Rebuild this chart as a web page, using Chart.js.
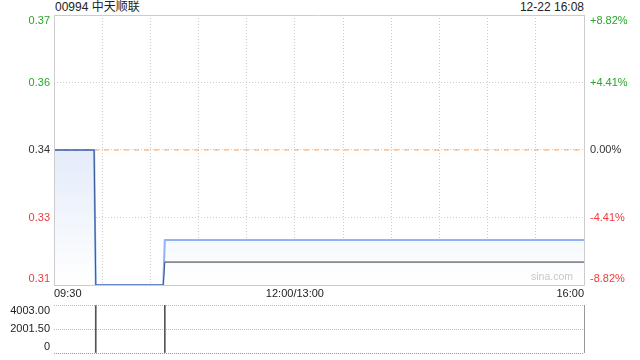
<!DOCTYPE html>
<html>
<head>
<meta charset="utf-8">
<script src="https://cdn.jsdelivr.net/npm/chart.js@4/dist/chart.umd.min.js"></script>
<style>
  html, body { margin: 0; padding: 0; background: #fff; }
  body { width: 640px; height: 360px; position: relative; overflow: hidden;
         font-family: Arial, "Liberation Sans", "Noto Sans CJK SC", sans-serif; }
  .txt { position: absolute; font-size: 12px; color: #222; white-space: nowrap; line-height: 14px; }
  #title { left: 55px; top: 0px; }
  #stamp { right: 56px; top: 0px; }
  #wm { right: 67px; top: 270px; color: #c8c8c8; font-size: 10.5px; line-height: 12px; }
  #price-wrap { position: absolute; left: 0; top: 0; width: 640px; height: 300px; }
  #vol-wrap { position: absolute; left: 0; top: 300px; width: 640px; height: 60px; }
</style>
</head>
<body>
<div class="txt" id="title">00994 中天顺联</div>
<div class="txt" id="stamp">12-22 16:08</div>
<div id="price-wrap"><canvas id="price-chart"></canvas></div>
<div class="txt" id="wm">sina.com</div>
<div id="vol-wrap"><canvas id="vol-chart"></canvas></div>
<script>
// minutes since 09:30 (lunch break removed), 330 = 16:00
const times = [0, 25, 26, 68, 69, 330];
const prices = [0.34, 0.34, 0.31, 0.31, 0.32, 0.32];
const avgPrices = [0.34, 0.34, 0.31, 0.31, 0.3151, 0.3151];
const prevClose = 0.34;

const volTimes = [26, 69];
const volumes = [3950, 4003];

const priceTicks = [0.31, 0.325, 0.34, 0.355, 0.37];
const priceLabels = ['0.31', '0.33', '0.34', '0.36', '0.37'];
const pctLabels = ['-8.82%', '-4.41%', '0.00%', '+4.41%', '+8.82%'];

const timeTicks = [0, 150, 330];
const timeLabels = ['09:30', '12:00/13:00', '16:00'];

const volTicks = [0, 2001.5, 4003];
const volLabels = ['0', '2001.50', '4003.00'];

const UP = '#2aa52a', DOWN = '#f23a3a', FLAT = '#333';
const FONT = { family: 'Arial, "Liberation Sans", sans-serif', size: 11, lineHeight: 1.1 };

function tickIndex(arr, v) {
  return arr.findIndex(t => Math.abs(t - v) < 1e-6);
}
function priceColor(v) {
  if (Math.abs(v - prevClose) < 1e-6) return FLAT;
  return v > prevClose ? UP : DOWN;
}
// first/last label nudged inside the plot, like the original
function innerLabel(arr, labels, v) {
  const i = tickIndex(arr, v);
  if (i < 0) return '';
  if (i === 0) return [labels[i], ''];
  if (i === arr.length - 1) return ['', labels[i]];
  return labels[i];
}
const noPad = (s) => { s.paddingTop = 0; s.paddingBottom = 0; };

// plain solid frame around the plot area
const frame = {
  id: 'frame',
  afterDraw(chart, args, opts) {
    const { ctx, chartArea: a } = chart;
    ctx.save();
    ctx.strokeStyle = opts.color || '#ccc';
    ctx.lineWidth = 1;
    ctx.beginPath();
    if (opts.full) {
      ctx.rect(Math.round(a.left) + 0.5, Math.round(a.top) + 0.5,
        Math.round(a.right - a.left), Math.round(a.bottom - a.top));
    } else {
      ctx.moveTo(Math.round(a.right) + 0.5, a.top);
      ctx.lineTo(Math.round(a.right) + 0.5, a.bottom);
    }
    ctx.stroke();
    ctx.restore();
  }
};

const pts = (xs, ys) => xs.map((x, i) => ({ x, y: ys[i] }));

new Chart(document.getElementById('price-chart'), {
  type: 'line',
  data: {
    datasets: [
      {
        label: 'price',
        data: pts(times, prices),
        borderColor: 'rgba(60, 120, 230, 0.55)',
        borderWidth: 2,
        pointRadius: 0,
        clip: 4,
        fill: 'start',
        backgroundColor: (c) => {
          const { chart } = c;
          const a = chart.chartArea;
          if (!a) return 'rgba(200,220,245,0.5)';
          const g = chart.ctx.createLinearGradient(0, a.top, 0, a.bottom);
          g.addColorStop(0, '#c8d9f6');
          g.addColorStop(1, '#ffffff');
          return g;
        }
      },
      {
        label: 'avg',
        data: pts(times, avgPrices),
        borderColor: '#333',
        borderWidth: 1,
        pointRadius: 0,
        fill: false,
        clip: 4
      },
      {
        label: 'prev',
        data: pts([times[0], times[times.length - 1]], [prevClose, prevClose]),
        borderColor: '#f9a56b',
        borderWidth: 1,
        borderDash: [5, 5],
        pointRadius: 0,
        fill: false
      }
    ]
  },
  options: {
    responsive: true,
    maintainAspectRatio: false,
    animation: false,
    layout: { padding: { top: 15, left: 0, right: 0, bottom: 0 } },
    plugins: {
      legend: { display: false },
      tooltip: { enabled: false },
      filler: { drawTime: 'beforeDatasetsDraw' },
      frame: { full: true, color: '#ccc' }
    },
    scales: {
      x: {
        type: 'linear',
        min: 0,
        max: 330,
        afterBuildTicks: (s) => {
          const t = [];
          for (let v = 0; v <= 330; v += 30) t.push({ value: v });
          s.ticks = t;
        },
        afterFit: (s) => { s.height = 15; },
        grid: { color: '#cccccc', drawTicks: false },
        border: { display: false, dash: [1, 2] },
        ticks: {
          autoSkip: false,
          maxRotation: 0,
          align: 'inner',
          padding: 3,
          color: '#222',
          font: FONT,
          callback: (v) => {
            const i = tickIndex(timeTicks, v);
            return i >= 0 ? timeLabels[i] : '';
          }
        }
      },
      y: {
        position: 'left',
        min: 0.31,
        max: 0.37,
        afterBuildTicks: (s) => { s.ticks = priceTicks.map(v => ({ value: v })); },
        afterFit: (s) => { s.width = 54; noPad(s); },
        grid: { color: '#cccccc', drawTicks: false },
        border: { display: false, dash: [1, 2] },
        ticks: {
          autoSkip: false,
          padding: 4,
          font: FONT,
          color: (c) => priceColor(c.tick.value),
          callback: (v) => innerLabel(priceTicks, priceLabels, v)
        }
      },
      y2: {
        position: 'right',
        min: 0.31,
        max: 0.37,
        afterBuildTicks: (s) => { s.ticks = priceTicks.map(v => ({ value: v })); },
        afterFit: (s) => { s.width = 56; noPad(s); },
        grid: { display: false, drawTicks: false },
        border: { display: false },
        ticks: {
          autoSkip: false,
          padding: 6,
          font: FONT,
          color: (c) => priceColor(c.tick.value),
          callback: (v) => innerLabel(priceTicks, pctLabels, v)
        }
      }
    }
  },
  plugins: [frame]
});

new Chart(document.getElementById('vol-chart'), {
  type: 'bar',
  data: {
    datasets: [{
      label: 'volume',
      data: pts(volTimes, volumes),
      backgroundColor: '#555',
      barThickness: 1
    }]
  },
  options: {
    responsive: true,
    maintainAspectRatio: false,
    animation: false,
    layout: { padding: { top: 5, bottom: 7, left: 0, right: 56 } },
    plugins: {
      legend: { display: false },
      tooltip: { enabled: false },
      frame: { full: false, color: '#999' }
    },
    scales: {
      x: {
        type: 'linear',
        min: 0,
        max: 330,
        offset: false,
        display: false
      },
      y: {
        min: 0,
        max: 4003,
        afterBuildTicks: (s) => { s.ticks = volTicks.map(v => ({ value: v })); },
        afterFit: (s) => { s.width = 54; noPad(s); },
        grid: {
          drawTicks: false,
          color: (c) => (c.tick && c.tick.value === 0) ? '#999' : '#bbbbbb'
        },
        border: { display: false, dash: [1, 1] },
        ticks: {
          autoSkip: false,
          padding: 4,
          color: '#222',
          font: FONT,
          callback: (v) => innerLabel(volTicks, volLabels, v)
        }
      }
    }
  },
  plugins: [frame]
});
</script>
</body>
</html>
